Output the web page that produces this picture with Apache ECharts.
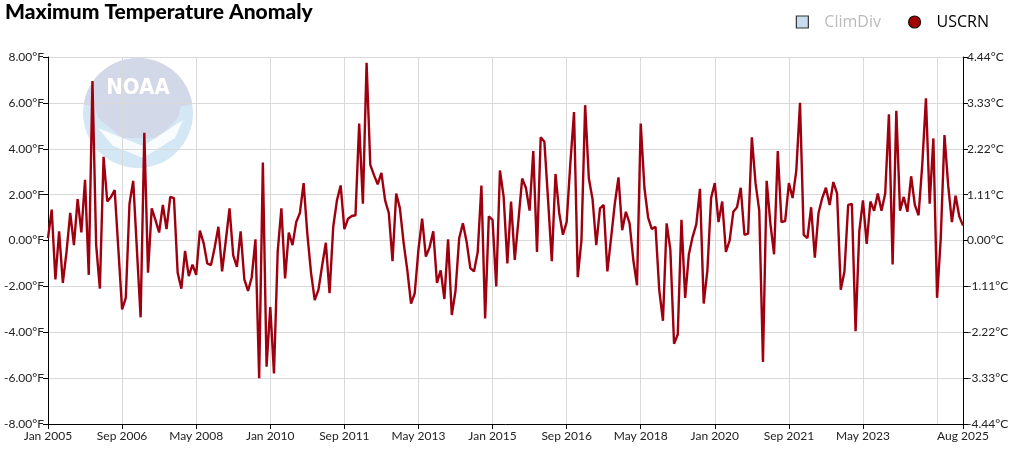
<!DOCTYPE html>
<html>
<head>
<meta charset="utf-8">
<script src="https://cdn.jsdelivr.net/npm/echarts@6/dist/echarts.min.js"></script>
<style>
html,body{margin:0;padding:0;background:#fff;}
#chart{width:1016px;height:452px;}
</style>
</head>
<body>
<div id="chart"></div>
<script>
const startYear = 2005;
const monthNames = ['Jan','Feb','Mar','Apr','May','Jun','Jul','Aug','Sep','Oct','Nov','Dec'];
const tickLabels = ['Jan 2005','Sep 2006','May 2008','Jan 2010','Sep 2011','May 2013','Jan 2015','Sep 2016','May 2018','Jan 2020','Sep 2021','May 2023','Aug 2025'];
const gridLabels = ['Jan 2005','Sep 2006','May 2008','Jan 2010','Sep 2011','May 2013','Jan 2015','Sep 2016','May 2018','Jan 2020','Sep 2021','May 2023','Jan 2025'];

const uscrn = [
 0.1, 1.35, -1.7, 0.4, -1.85, -0.5, 1.2, -0.2, 1.8, 0.35, 2.65, -1.5,
 6.95, -0.2, -2.1, 3.65, 1.7, 1.9, 2.2, -0.4, -3.0, -2.5, 1.6, 2.6,
 -0.4, -3.35, 4.7, -1.4, 1.4, 0.9, 0.35, 1.55, 0.5, 1.9, 1.85, -1.4,
 -2.1, -0.45, -1.55, -1.05, -1.5, 0.43, -0.1, -1.0, -1.07, -0.3, 0.6, -1.35,
 0.0, 1.4, -0.65, -1.15, 0.4, -1.7, -2.2, -1.6, 0.05, -6.0, 3.4, -5.5,
 -2.9, -5.8, -0.5, 1.4, -1.65, 0.35, -0.2, 0.8, 1.2, 2.5, 0.3, -1.4,
 -2.6, -2.15, -1.1, -0.1, -2.3, 0.6, 1.75, 2.4, 0.5, 0.95, 1.07, 1.1,
 5.1, 1.6, 7.75, 3.3, 2.85, 2.45, 2.95, 1.75, 1.2, -0.9, 2.05, 1.4,
 -0.1, -1.3, -2.75, -2.3, -0.4, 0.95, -0.7, -0.3, 0.4, -1.85, -1.3, -2.55,
 0.05, -3.25, -2.2, 0.1, 0.75, -0.05, -1.2, -1.35, -0.5, 2.4, -3.4, 1.05,
 0.9, -2.0, 3.05, 1.9, -1.0, 1.7, -0.85, 0.9, 2.7, 2.3, 1.3, 3.9,
 -0.5, 4.5, 4.3, 1.75, -0.9, 2.9, 1.2, 0.25, 0.8, 3.35, 5.6, -1.6,
 0.0, 5.9, 2.7, 1.8, -0.2, 1.4, 1.55, -1.35, 0.1, 1.6, 2.75, 0.45,
 1.25, 0.75, -0.85, -1.95, 5.1, 2.3, 1.0, 0.5, 0.6, -2.15, -3.5, 0.75,
 -0.4, -4.5, -4.1, 0.9, -2.5, -0.6, 0.15, 0.7, 2.25, -2.75, -1.3, 1.85,
 2.5, 0.8, 1.7, -0.5, 0.0, 1.25, 1.45, 2.3, 0.25, 0.3, 4.5, 2.5,
 1.3, -5.3, 2.6, 0.75, -0.6, 3.9, 0.8, 0.85, 2.5, 1.85, 3.05, 6.0,
 0.25, 0.1, 1.45, -0.75, 1.2, 1.85, 2.3, 1.55, 2.55, 2.05, -2.15, -1.35,
 1.55, 1.6, -3.95, 0.4, 1.75, -0.15, 1.7, 1.3, 2.05, 1.3, 2.05, 5.5,
 -1.05, 5.65, 1.3, 1.9, 1.25, 2.8, 1.55, 1.1, 3.3, 6.2, 1.6, 4.45,
 -2.5, 0.1, 4.6, 2.4, 0.8, 1.95, 1.05, 0.65
];

const categories = uscrn.map((_, i) => monthNames[i % 12] + ' ' + (startYear + Math.floor(i / 12)));

const FONT = 'Lato, "Noto Sans", sans-serif';
const LEGEND_FONT = '"Open Sans", "Noto Sans", sans-serif';
const chart = echarts.init(document.getElementById('chart'), null, {renderer: 'canvas'});

const option = {
  animation: false,
  backgroundColor: '#fff',
  title: {
    text: 'Maximum Temperature Anomaly',
    left: 5, top: 2, padding: 0,
    textStyle: {fontFamily: FONT, fontWeight: 900, fontSize: 21, color: '#000'}
  },
  legend: {
    right: 27, top: 14, padding: 0,
    itemWidth: 12, itemHeight: 12, itemGap: 27,
    textStyle: {fontFamily: LEGEND_FONT, fontSize: 16, color: '#000', padding: [0, 0, 0, 11]},
    data: [
      {name: 'ClimDiv', icon: 'rect', itemStyle: {color: '#c8dcef', borderColor: '#333', borderWidth: 1.2}, textStyle: {color: '#bbbbbb'}},
      {name: 'USCRN', icon: 'circle', itemStyle: {color: '#a50000', borderColor: '#111', borderWidth: 1.2}, textStyle: {color: '#000'}}
    ],
    selectedMode: false
  },
  graphic: [
    {type: 'group', left: 83, top: 58, z: -5, silent: true, children: [
      {type: 'circle', shape: {cx: 55, cy: 55, r: 55}, style: {fill: '#d4e7f5'}},
      {type: 'sector', shape: {cx: 55, cy: 55, r: 55, startAngle: Math.PI * 1.05, endAngle: Math.PI * 1.95}, style: {fill: '#d3d8e8'}},
      {type: 'polygon', shape: {points: [[8,30],[102,30],[95,60],[75,80],[40,80],[15,60]]}, style: {fill: '#d3d8e8'}},
      {type: 'text', style: {x: 55, y: 30, text: 'NOAA', fill: '#ffffff', font: 'bold 22px "DejaVu Sans Condensed", sans-serif', align: 'center', verticalAlign: 'middle'}},
      {type: 'polygon', shape: {points: [[15,70],[60,88],[100,62],[92,80],[60,100],[30,88]]}, style: {fill: '#ffffff', opacity: 0.85}}
    ]}
  ],
  grid: {left: 48, right: 53, top: 57, bottom: 28, containLabel: false},
  xAxis: {
    type: 'category',
    data: categories,
    boundaryGap: false,
    axisLine: {show: true, onZero: false, lineStyle: {color: '#000', width: 1}},
    axisTick: {show: true, length: 5, lineStyle: {color: '#000'},
      interval: (i, v) => tickLabels.indexOf(v) >= 0},
    axisLabel: {
      interval: (i, v) => tickLabels.indexOf(v) >= 0,
      fontFamily: FONT, fontSize: 12, color: '#222', margin: 6
    },
    splitLine: {show: true, lineStyle: {color: '#d9d9d9', width: 1},
      interval: (i, v) => gridLabels.indexOf(v) >= 0}
  },
  yAxis: [
    {
      type: 'value', min: -8, max: 8, interval: 2, position: 'left',
      axisLine: {show: true, lineStyle: {color: '#000'}},
      axisTick: {show: true, length: 5, lineStyle: {color: '#000'}},
      axisLabel: {formatter: v => v.toFixed(2) + '°F', fontFamily: FONT, fontSize: 12, color: '#222', margin: 4},
      splitLine: {show: true, lineStyle: {color: '#d9d9d9', width: 1}}
    },
    {
      type: 'value', min: -8 / 1.8, max: 8 / 1.8, interval: 2 / 1.8, position: 'right',
      axisLine: {show: true, lineStyle: {color: '#000'}},
      axisTick: {show: true, length: 5, lineStyle: {color: '#000'}},
      axisLabel: {formatter: v => (Math.abs(v) < 1e-9 ? 0 : v).toFixed(2) + '°C', fontFamily: FONT, fontSize: 12, color: '#222', margin: 4},
      splitLine: {show: false}
    }
  ],
  series: [
    {name: 'ClimDiv', type: 'line', data: []},
    {
      name: 'USCRN', type: 'line', data: uscrn, yAxisIndex: 0,
      showSymbol: false, symbol: 'none',
      lineStyle: {color: '#9e0010', width: 2.4},
      itemStyle: {color: '#9e0010'},
      z: 5
    }
  ]
};
chart.setOption(option);
</script>
</body>
</html>
